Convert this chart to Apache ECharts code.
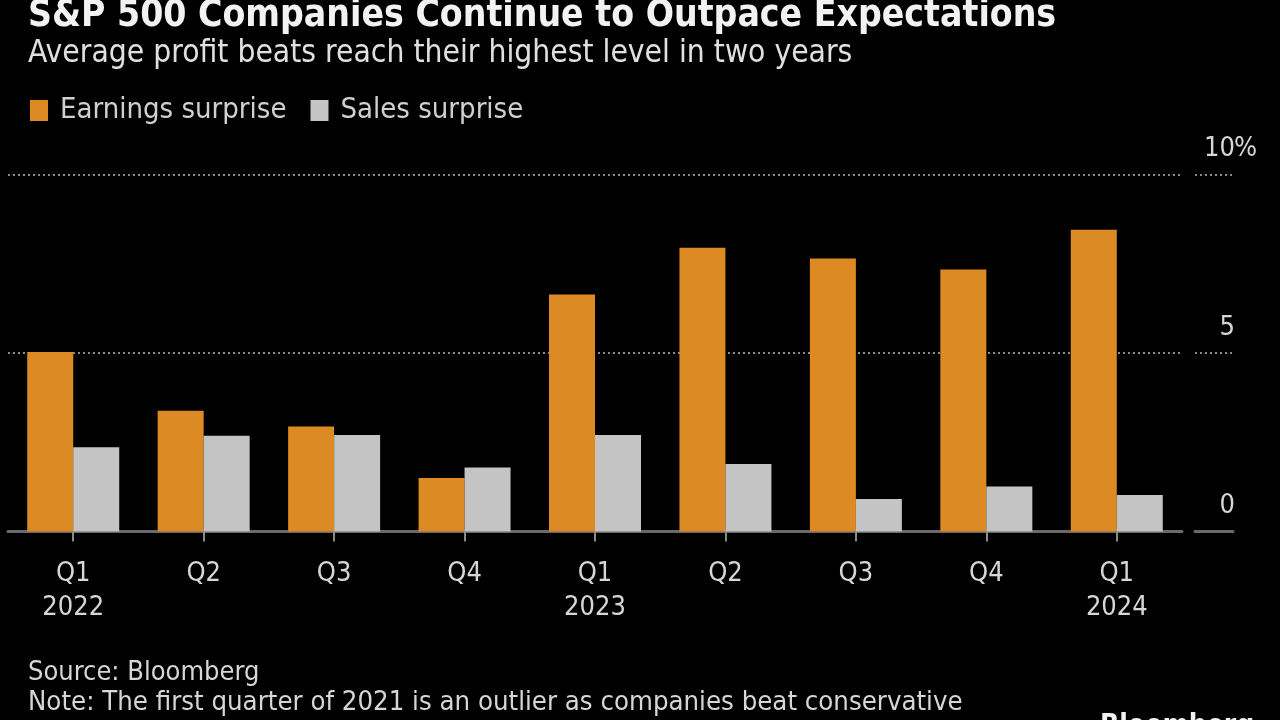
<!DOCTYPE html>
<html>
<head>
<meta charset="utf-8">
<script src="https://cdn.jsdelivr.net/npm/echarts@6/dist/echarts.min.js"></script>
<style>
html,body{margin:0;padding:0;background:#000;}
#c{width:1280px;height:720px;}
</style>
</head>
<body>
<div id="c"></div>
<script>
const quarters = ['Q1','Q2','Q3','Q4','Q1','Q2','Q3','Q4','Q1'];
const years = ['2022','','','','2023','','','','2024'];
const earningsSurprise = [5.03, 3.38, 2.94, 1.50, 6.64, 7.95, 7.65, 7.34, 8.45];
const salesSurprise = [2.36, 2.68, 2.70, 1.79, 2.70, 1.89, 0.91, 1.26, 1.02];
const yTicks = [0, 5, 10];

const FONT = "'Liberation Sans Narrow','DejaVu Sans Condensed','Liberation Sans',sans-serif";
const categories = quarters.map((q, i) => q + '\n' + years[i]);
const yMin = yTicks[0], yMax = yTicks[yTicks.length - 1], yStep = yTicks[1] - yTicks[0];

const chart = echarts.init(document.getElementById('c'), null, {renderer: 'canvas'});
const dotted = {color: '#8a8a8a', width: 2, type: [2, 3]};
const labelBase = {color: '#d6d6d6', fontSize: 27, fontFamily: FONT, verticalAlign: 'bottom', padding: [0, 0, 12, 0]};
chart.setOption({
  backgroundColor: '#000',
  animation: false,
  title: [
    {text: 'S&P 500 Companies Continue to Outpace Expectations', left: 23, top: -7,
     textStyle: {color: '#f2f2f2', fontSize: 37, fontWeight: 'bold', fontFamily: FONT}},
    {text: 'Average profit beats reach their highest level in two years', left: 23, top: 32.5,
     textStyle: {color: '#e0e0e0', fontSize: 31.5, fontWeight: 'normal', fontFamily: FONT}},
    {text: 'Source: Bloomberg', left: 23, top: 654,
     textStyle: {color: '#d6d6d6', fontSize: 27, fontWeight: 'normal', fontFamily: FONT}},
    {text: 'Note: The first quarter of 2021 is an outlier as companies beat conservative', left: 23, top: 684,
     textStyle: {color: '#d6d6d6', fontSize: 27.3, fontWeight: 'normal', fontFamily: FONT}},
    {text: 'Bloomberg', left: 1095, top: 708,
     textStyle: {color: '#f2f2f2', fontSize: 28, fontWeight: 'bold', fontFamily: FONT}}
  ],
  legend: {
    left: 25, top: 91, itemWidth: 18, itemHeight: 21, itemGap: 24, icon: 'rect',
    textStyle: {color: '#d0d0d0', fontSize: 29, fontFamily: FONT, padding: [0, 0, 0, 7]},
    data: ['Earnings surprise', 'Sales surprise']
  },
  grid: [
    {left: 8, right: 98, top: 174.5, bottom: 188.5},
    {left: 1195, right: 47, top: 174.5, bottom: 188.5}
  ],
  xAxis: [
    {type: 'category', gridIndex: 0, data: categories,
     axisLine: {show: true, lineStyle: {color: '#6a6a6a', width: 3}},
     axisTick: {show: true, alignWithLabel: true, length: 10, lineStyle: {color: '#8a8a8a', width: 2}},
     axisLabel: {color: '#d6d6d6', fontSize: 27, fontFamily: FONT, margin: 25, lineHeight: 34, interval: 0}},
    {type: 'category', gridIndex: 1, data: [''],
     axisLine: {show: true, lineStyle: {color: '#6a6a6a', width: 3}},
     axisTick: {show: false}, axisLabel: {show: false}}
  ],
  yAxis: [
    {type: 'value', gridIndex: 0, min: yMin, max: yMax, interval: yStep,
     axisLine: {show: false}, axisTick: {show: false}, axisLabel: {show: false},
     splitLine: {show: true, lineStyle: dotted}},
    {type: 'value', gridIndex: 1, position: 'right', min: yMin, max: yMax, interval: yStep,
     axisLine: {show: false}, axisTick: {show: false},
     splitLine: {show: true, lineStyle: dotted},
     axisLabel: Object.assign({inside: true, margin: -2, formatter: v => String(v)}, labelBase)},
    {type: 'value', gridIndex: 1, position: 'right', min: yMin, max: yMax, interval: yStep,
     axisLine: {show: false}, axisTick: {show: false}, splitLine: {show: false},
     axisLabel: Object.assign({inside: false, margin: 1, formatter: v => v === yMax ? '%' : ''}, labelBase)}
  ],
  series: [
    {name: 'Earnings surprise', type: 'bar', xAxisIndex: 0, yAxisIndex: 0, data: earningsSurprise,
     barWidth: 46, barGap: '0%', itemStyle: {color: '#dc8a24'}},
    {name: 'Sales surprise', type: 'bar', xAxisIndex: 0, yAxisIndex: 0, data: salesSurprise,
     barWidth: 46, barGap: '0%', itemStyle: {color: '#c4c4c4'}}
  ]
});
</script>
</body>
</html>
